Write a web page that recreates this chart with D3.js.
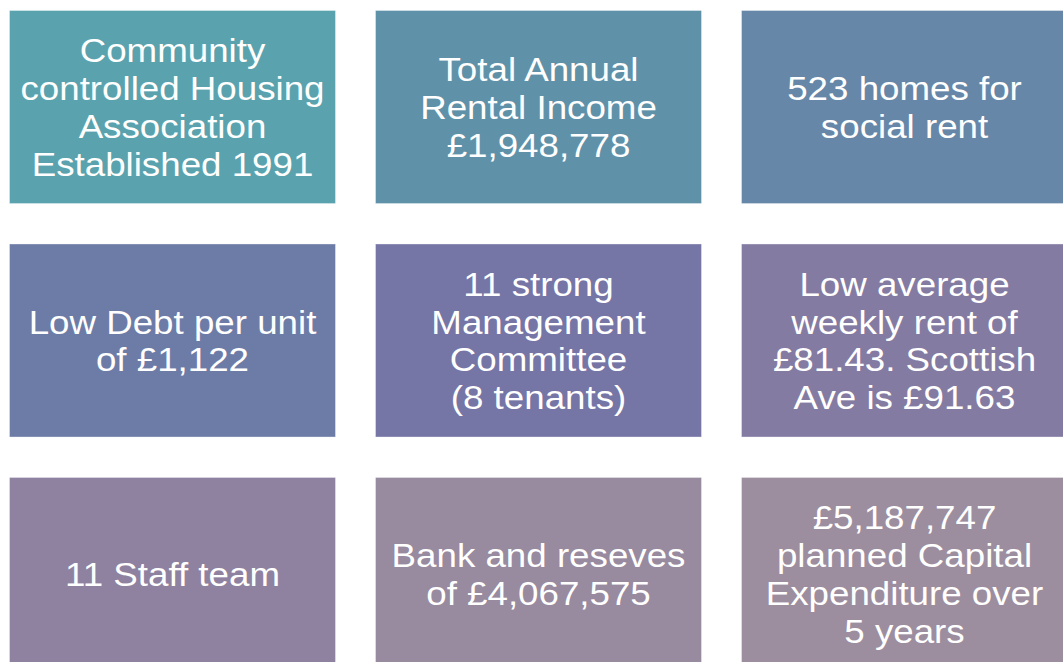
<!DOCTYPE html>
<meta charset="utf-8">
<style>
body { margin: 0; background: #fff; }
svg { display: block; }
.tile rect { stroke: rgba(255,255,255,0.35); stroke-width: 1px; }
.tile text {
  font-family: "Liberation Sans", Arial, sans-serif;
  font-size: 34px;
  fill: #fff;
  text-anchor: middle;
}
</style>
<svg id="grid" width="1063" height="662"></svg>
<script src="https://d3js.org/d3.v7.min.js"></script>
<script>
// tile texts, one array of lines per tile, in reading order
var facts = [
  ["Community", "controlled Housing", "Association", "Established 1991"],
  ["Total Annual", "Rental Income", "£1,948,778"],
  ["523 homes for", "social rent"],
  ["Low Debt per unit", "of £1,122"],
  ["11 strong", "Management", "Committee", "(8 tenants)"],
  ["Low average", "weekly rent of", "£81.43. Scottish", "Ave is £91.63"],
  ["11 Staff team"],
  ["Bank and reseves", "of £4,067,575"],
  ["£5,187,747", "planned Capital", "Expenditure over", "5 years"]
];
var cols = [0, 1, 2];
var rows = [0, 1, 2];

// palette, teal -> mauve
var palette = ["#5aa3ae", "#5f92a9", "#6787a8", "#6d7ca7", "#7575a6",
               "#847ba2", "#8f82a1", "#988a9f", "#9c8e9f"];

var svg = d3.select("#grid");

var x = d3.scaleBand().domain(cols).range([9, 1068]).paddingInner(0.1066);
var y = d3.scaleBand().domain(rows).range([10, 671]).paddingInner(0.169);

var lineH = 38;

var tile = svg.selectAll("g.tile")
    .data(facts)
    .enter().append("g")
      .attr("class", "tile")
      .attr("transform", function(d, i) {
        return "translate(" + x(i % 3) + "," + y(Math.floor(i / 3)) + ")";
      });

tile.append("rect")
    .attr("x", 0.5)
    .attr("y", 0.5)
    .attr("width", x.bandwidth() - 1)
    .attr("height", y.bandwidth() - 1)
    .attr("fill", function(d, i) { return palette[i]; });

var txt = tile.append("text")
    .attr("transform", "translate(" + x.bandwidth() / 2 + "," + y.bandwidth() / 2 + ") scale(1.08,1)");

txt.selectAll("tspan")
    .data(function(d) { return d.map(function(s, j) { return {s: s, j: j, n: d.length}; }); })
    .enter().append("tspan")
      .attr("x", 0)
      .attr("y", function(d) { return (d.j - (d.n - 1) / 2) * lineH + 12; })
      .text(function(d) { return d.s; });
</script>
